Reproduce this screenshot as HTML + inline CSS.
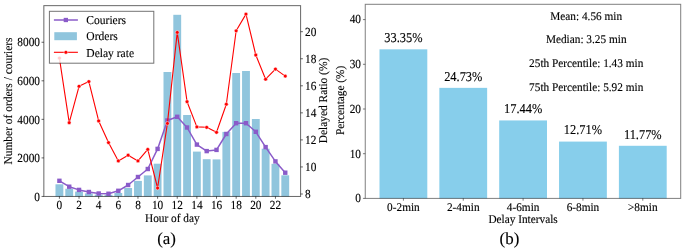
<!DOCTYPE html><html><head><meta charset="utf-8"><title>Figure</title><style>html,body{margin:0;padding:0;background:#fff}svg{display:block}text{text-rendering:geometricPrecision;font-family:"Liberation Serif","Times New Roman",serif}</style></head><body>
<svg width="685" height="248" viewBox="0 0 685 248">
<rect width="685" height="248" fill="#fff"/>
<g>
<rect x="55.48" y="184.30" width="7.85" height="12.15" fill="#90C5DD"/>
<rect x="65.30" y="188.75" width="7.85" height="7.70" fill="#90C5DD"/>
<rect x="75.11" y="191.60" width="7.85" height="4.85" fill="#90C5DD"/>
<rect x="84.94" y="193.40" width="7.85" height="3.05" fill="#90C5DD"/>
<rect x="94.76" y="194.60" width="7.85" height="1.85" fill="#90C5DD"/>
<rect x="104.58" y="194.80" width="7.85" height="1.65" fill="#90C5DD"/>
<rect x="114.39" y="193.00" width="7.85" height="3.45" fill="#90C5DD"/>
<rect x="124.22" y="188.00" width="7.85" height="8.45" fill="#90C5DD"/>
<rect x="134.03" y="180.90" width="7.85" height="15.55" fill="#90C5DD"/>
<rect x="143.85" y="175.40" width="7.85" height="21.05" fill="#90C5DD"/>
<rect x="153.67" y="163.70" width="7.85" height="32.75" fill="#90C5DD"/>
<rect x="163.50" y="72.00" width="7.85" height="124.45" fill="#90C5DD"/>
<rect x="173.31" y="14.80" width="7.85" height="181.65" fill="#90C5DD"/>
<rect x="183.13" y="115.00" width="7.85" height="81.45" fill="#90C5DD"/>
<rect x="192.96" y="151.60" width="7.85" height="44.85" fill="#90C5DD"/>
<rect x="202.78" y="159.20" width="7.85" height="37.25" fill="#90C5DD"/>
<rect x="212.59" y="159.40" width="7.85" height="37.05" fill="#90C5DD"/>
<rect x="222.41" y="131.90" width="7.85" height="64.55" fill="#90C5DD"/>
<rect x="232.23" y="73.00" width="7.85" height="123.45" fill="#90C5DD"/>
<rect x="242.06" y="71.00" width="7.85" height="125.45" fill="#90C5DD"/>
<rect x="251.88" y="119.00" width="7.85" height="77.45" fill="#90C5DD"/>
<rect x="261.69" y="148.70" width="7.85" height="47.75" fill="#90C5DD"/>
<rect x="271.51" y="163.80" width="7.85" height="32.65" fill="#90C5DD"/>
<rect x="281.33" y="175.30" width="7.85" height="21.15" fill="#90C5DD"/>
<polyline points="59.40,180.80 69.22,186.70 79.04,189.90 88.86,192.00 98.68,193.50 108.50,193.75 118.32,190.80 128.14,185.00 137.96,177.00 147.78,169.00 157.60,148.90 167.42,120.50 177.24,116.80 187.06,127.50 196.88,144.60 206.70,151.10 216.52,149.90 226.34,134.00 236.16,123.20 245.98,123.20 255.80,131.80 265.62,147.10 275.44,161.40 285.26,172.70" fill="none" stroke="#8A5BC9" stroke-width="1.5" stroke-linejoin="round"/>
<rect x="57.20" y="178.60" width="4.4" height="4.4" fill="#8A5BC9"/>
<rect x="67.02" y="184.50" width="4.4" height="4.4" fill="#8A5BC9"/>
<rect x="76.84" y="187.70" width="4.4" height="4.4" fill="#8A5BC9"/>
<rect x="86.66" y="189.80" width="4.4" height="4.4" fill="#8A5BC9"/>
<rect x="96.48" y="191.30" width="4.4" height="4.4" fill="#8A5BC9"/>
<rect x="106.30" y="191.55" width="4.4" height="4.4" fill="#8A5BC9"/>
<rect x="116.12" y="188.60" width="4.4" height="4.4" fill="#8A5BC9"/>
<rect x="125.94" y="182.80" width="4.4" height="4.4" fill="#8A5BC9"/>
<rect x="135.76" y="174.80" width="4.4" height="4.4" fill="#8A5BC9"/>
<rect x="145.58" y="166.80" width="4.4" height="4.4" fill="#8A5BC9"/>
<rect x="155.40" y="146.70" width="4.4" height="4.4" fill="#8A5BC9"/>
<rect x="165.22" y="118.30" width="4.4" height="4.4" fill="#8A5BC9"/>
<rect x="175.04" y="114.60" width="4.4" height="4.4" fill="#8A5BC9"/>
<rect x="184.86" y="125.30" width="4.4" height="4.4" fill="#8A5BC9"/>
<rect x="194.68" y="142.40" width="4.4" height="4.4" fill="#8A5BC9"/>
<rect x="204.50" y="148.90" width="4.4" height="4.4" fill="#8A5BC9"/>
<rect x="214.32" y="147.70" width="4.4" height="4.4" fill="#8A5BC9"/>
<rect x="224.14" y="131.80" width="4.4" height="4.4" fill="#8A5BC9"/>
<rect x="233.96" y="121.00" width="4.4" height="4.4" fill="#8A5BC9"/>
<rect x="243.78" y="121.00" width="4.4" height="4.4" fill="#8A5BC9"/>
<rect x="253.60" y="129.60" width="4.4" height="4.4" fill="#8A5BC9"/>
<rect x="263.42" y="144.90" width="4.4" height="4.4" fill="#8A5BC9"/>
<rect x="273.24" y="159.20" width="4.4" height="4.4" fill="#8A5BC9"/>
<rect x="283.06" y="170.50" width="4.4" height="4.4" fill="#8A5BC9"/>
<polyline points="59.40,58.10 69.22,122.70 79.04,86.30 88.86,81.60 98.68,120.90 108.50,142.60 118.32,160.90 128.14,155.20 137.96,160.90 147.78,149.40 157.60,188.00 167.42,123.40 177.24,32.40 187.06,101.70 196.88,126.90 206.70,127.30 216.52,132.30 226.34,104.20 236.16,30.80 245.98,14.10 255.80,55.00 265.62,79.20 275.44,69.10 285.26,76.10" fill="none" stroke="#FF0000" stroke-width="1.1" stroke-linejoin="round"/>
<circle cx="59.40" cy="58.10" r="1.9" fill="#FF0000" stroke="#fff" stroke-width="0.5"/>
<circle cx="69.22" cy="122.70" r="1.9" fill="#FF0000" stroke="#fff" stroke-width="0.5"/>
<circle cx="79.04" cy="86.30" r="1.9" fill="#FF0000" stroke="#fff" stroke-width="0.5"/>
<circle cx="88.86" cy="81.60" r="1.9" fill="#FF0000" stroke="#fff" stroke-width="0.5"/>
<circle cx="98.68" cy="120.90" r="1.9" fill="#FF0000" stroke="#fff" stroke-width="0.5"/>
<circle cx="108.50" cy="142.60" r="1.9" fill="#FF0000" stroke="#fff" stroke-width="0.5"/>
<circle cx="118.32" cy="160.90" r="1.9" fill="#FF0000" stroke="#fff" stroke-width="0.5"/>
<circle cx="128.14" cy="155.20" r="1.9" fill="#FF0000" stroke="#fff" stroke-width="0.5"/>
<circle cx="137.96" cy="160.90" r="1.9" fill="#FF0000" stroke="#fff" stroke-width="0.5"/>
<circle cx="147.78" cy="149.40" r="1.9" fill="#FF0000" stroke="#fff" stroke-width="0.5"/>
<circle cx="157.60" cy="188.00" r="1.9" fill="#FF0000" stroke="#fff" stroke-width="0.5"/>
<circle cx="167.42" cy="123.40" r="1.9" fill="#FF0000" stroke="#fff" stroke-width="0.5"/>
<circle cx="177.24" cy="32.40" r="1.9" fill="#FF0000" stroke="#fff" stroke-width="0.5"/>
<circle cx="187.06" cy="101.70" r="1.9" fill="#FF0000" stroke="#fff" stroke-width="0.5"/>
<circle cx="196.88" cy="126.90" r="1.9" fill="#FF0000" stroke="#fff" stroke-width="0.5"/>
<circle cx="206.70" cy="127.30" r="1.9" fill="#FF0000" stroke="#fff" stroke-width="0.5"/>
<circle cx="216.52" cy="132.30" r="1.9" fill="#FF0000" stroke="#fff" stroke-width="0.5"/>
<circle cx="226.34" cy="104.20" r="1.9" fill="#FF0000" stroke="#fff" stroke-width="0.5"/>
<circle cx="236.16" cy="30.80" r="1.9" fill="#FF0000" stroke="#fff" stroke-width="0.5"/>
<circle cx="245.98" cy="14.10" r="1.9" fill="#FF0000" stroke="#fff" stroke-width="0.5"/>
<circle cx="255.80" cy="55.00" r="1.9" fill="#FF0000" stroke="#fff" stroke-width="0.5"/>
<circle cx="265.62" cy="79.20" r="1.9" fill="#FF0000" stroke="#fff" stroke-width="0.5"/>
<circle cx="275.44" cy="69.10" r="1.9" fill="#FF0000" stroke="#fff" stroke-width="0.5"/>
<circle cx="285.26" cy="76.10" r="1.9" fill="#FF0000" stroke="#fff" stroke-width="0.5"/>
<rect x="43.85" y="5.65" width="256.75" height="190.80" fill="none" stroke="#000" stroke-opacity="0.6" stroke-width="1.0"/>
<line x1="41.550000000000004" x2="43.85" y1="196.45" y2="196.45" stroke="#000" stroke-opacity="0.6" stroke-width="1.0"/>
<text transform="translate(39.95,200.65) scale(1.0,1.09)" font-size="11.3" text-anchor="end" stroke="#000" stroke-width="0.12" fill="#000">0</text>
<line x1="41.550000000000004" x2="43.85" y1="157.90" y2="157.90" stroke="#000" stroke-opacity="0.6" stroke-width="1.0"/>
<text transform="translate(39.95,162.10) scale(1.0,1.09)" font-size="11.3" text-anchor="end" stroke="#000" stroke-width="0.12" fill="#000">2000</text>
<line x1="41.550000000000004" x2="43.85" y1="119.35" y2="119.35" stroke="#000" stroke-opacity="0.6" stroke-width="1.0"/>
<text transform="translate(39.95,123.55) scale(1.0,1.09)" font-size="11.3" text-anchor="end" stroke="#000" stroke-width="0.12" fill="#000">4000</text>
<line x1="41.550000000000004" x2="43.85" y1="80.80" y2="80.80" stroke="#000" stroke-opacity="0.6" stroke-width="1.0"/>
<text transform="translate(39.95,85.00) scale(1.0,1.09)" font-size="11.3" text-anchor="end" stroke="#000" stroke-width="0.12" fill="#000">6000</text>
<line x1="41.550000000000004" x2="43.85" y1="42.25" y2="42.25" stroke="#000" stroke-opacity="0.6" stroke-width="1.0"/>
<text transform="translate(39.95,46.45) scale(1.0,1.09)" font-size="11.3" text-anchor="end" stroke="#000" stroke-width="0.12" fill="#000">8000</text>
<line x1="59.40" x2="59.40" y1="196.45" y2="198.75" stroke="#000" stroke-opacity="0.6" stroke-width="1.0"/>
<text transform="translate(59.40,208.60) scale(1.0,1.09)" font-size="11.3" text-anchor="middle" stroke="#000" stroke-width="0.12" fill="#000">0</text>
<line x1="79.04" x2="79.04" y1="196.45" y2="198.75" stroke="#000" stroke-opacity="0.6" stroke-width="1.0"/>
<text transform="translate(79.04,208.60) scale(1.0,1.09)" font-size="11.3" text-anchor="middle" stroke="#000" stroke-width="0.12" fill="#000">2</text>
<line x1="98.68" x2="98.68" y1="196.45" y2="198.75" stroke="#000" stroke-opacity="0.6" stroke-width="1.0"/>
<text transform="translate(98.68,208.60) scale(1.0,1.09)" font-size="11.3" text-anchor="middle" stroke="#000" stroke-width="0.12" fill="#000">4</text>
<line x1="118.32" x2="118.32" y1="196.45" y2="198.75" stroke="#000" stroke-opacity="0.6" stroke-width="1.0"/>
<text transform="translate(118.32,208.60) scale(1.0,1.09)" font-size="11.3" text-anchor="middle" stroke="#000" stroke-width="0.12" fill="#000">6</text>
<line x1="137.96" x2="137.96" y1="196.45" y2="198.75" stroke="#000" stroke-opacity="0.6" stroke-width="1.0"/>
<text transform="translate(137.96,208.60) scale(1.0,1.09)" font-size="11.3" text-anchor="middle" stroke="#000" stroke-width="0.12" fill="#000">8</text>
<line x1="157.60" x2="157.60" y1="196.45" y2="198.75" stroke="#000" stroke-opacity="0.6" stroke-width="1.0"/>
<text transform="translate(157.60,208.60) scale(1.0,1.09)" font-size="11.3" text-anchor="middle" stroke="#000" stroke-width="0.12" fill="#000">10</text>
<line x1="177.24" x2="177.24" y1="196.45" y2="198.75" stroke="#000" stroke-opacity="0.6" stroke-width="1.0"/>
<text transform="translate(177.24,208.60) scale(1.0,1.09)" font-size="11.3" text-anchor="middle" stroke="#000" stroke-width="0.12" fill="#000">12</text>
<line x1="196.88" x2="196.88" y1="196.45" y2="198.75" stroke="#000" stroke-opacity="0.6" stroke-width="1.0"/>
<text transform="translate(196.88,208.60) scale(1.0,1.09)" font-size="11.3" text-anchor="middle" stroke="#000" stroke-width="0.12" fill="#000">14</text>
<line x1="216.52" x2="216.52" y1="196.45" y2="198.75" stroke="#000" stroke-opacity="0.6" stroke-width="1.0"/>
<text transform="translate(216.52,208.60) scale(1.0,1.09)" font-size="11.3" text-anchor="middle" stroke="#000" stroke-width="0.12" fill="#000">16</text>
<line x1="236.16" x2="236.16" y1="196.45" y2="198.75" stroke="#000" stroke-opacity="0.6" stroke-width="1.0"/>
<text transform="translate(236.16,208.60) scale(1.0,1.09)" font-size="11.3" text-anchor="middle" stroke="#000" stroke-width="0.12" fill="#000">18</text>
<line x1="255.80" x2="255.80" y1="196.45" y2="198.75" stroke="#000" stroke-opacity="0.6" stroke-width="1.0"/>
<text transform="translate(255.80,208.60) scale(1.0,1.09)" font-size="11.3" text-anchor="middle" stroke="#000" stroke-width="0.12" fill="#000">20</text>
<line x1="275.44" x2="275.44" y1="196.45" y2="198.75" stroke="#000" stroke-opacity="0.6" stroke-width="1.0"/>
<text transform="translate(275.44,208.60) scale(1.0,1.09)" font-size="11.3" text-anchor="middle" stroke="#000" stroke-width="0.12" fill="#000">22</text>
<line x1="300.6" x2="302.90000000000003" y1="194.00" y2="194.00" stroke="#000" stroke-opacity="0.6" stroke-width="1.0"/>
<text transform="translate(305.00,198.10) scale(1.0,1.09)" font-size="11.3" text-anchor="start" stroke="#000" stroke-width="0.12" fill="#000">8</text>
<line x1="300.6" x2="302.90000000000003" y1="166.95" y2="166.95" stroke="#000" stroke-opacity="0.6" stroke-width="1.0"/>
<text transform="translate(305.00,171.05) scale(1.0,1.09)" font-size="11.3" text-anchor="start" stroke="#000" stroke-width="0.12" fill="#000">10</text>
<line x1="300.6" x2="302.90000000000003" y1="139.90" y2="139.90" stroke="#000" stroke-opacity="0.6" stroke-width="1.0"/>
<text transform="translate(305.00,144.00) scale(1.0,1.09)" font-size="11.3" text-anchor="start" stroke="#000" stroke-width="0.12" fill="#000">12</text>
<line x1="300.6" x2="302.90000000000003" y1="112.85" y2="112.85" stroke="#000" stroke-opacity="0.6" stroke-width="1.0"/>
<text transform="translate(305.00,116.95) scale(1.0,1.09)" font-size="11.3" text-anchor="start" stroke="#000" stroke-width="0.12" fill="#000">14</text>
<line x1="300.6" x2="302.90000000000003" y1="85.80" y2="85.80" stroke="#000" stroke-opacity="0.6" stroke-width="1.0"/>
<text transform="translate(305.00,89.90) scale(1.0,1.09)" font-size="11.3" text-anchor="start" stroke="#000" stroke-width="0.12" fill="#000">16</text>
<line x1="300.6" x2="302.90000000000003" y1="58.75" y2="58.75" stroke="#000" stroke-opacity="0.6" stroke-width="1.0"/>
<text transform="translate(305.00,62.85) scale(1.0,1.09)" font-size="11.3" text-anchor="start" stroke="#000" stroke-width="0.12" fill="#000">18</text>
<line x1="300.6" x2="302.90000000000003" y1="31.70" y2="31.70" stroke="#000" stroke-opacity="0.6" stroke-width="1.0"/>
<text transform="translate(305.00,35.80) scale(1.0,1.09)" font-size="11.3" text-anchor="start" stroke="#000" stroke-width="0.12" fill="#000">20</text>
<text transform="translate(12.40,101.00) rotate(-90) scale(1.0,1.045)" font-size="11.45" text-anchor="middle" stroke="#000" stroke-width="0.12" fill="#000">Number of orders / couriers</text>
<text transform="translate(326.60,100.50) rotate(-90) scale(1.0,1.045)" font-size="11.4" text-anchor="middle" stroke="#000" stroke-width="0.12" fill="#000">Delayed Ratio (%)</text>
<text transform="translate(172.30,221.60) scale(1.0,1.045)" font-size="11.3" text-anchor="middle" stroke="#000" stroke-width="0.12" fill="#000">Hour of day</text>
<text transform="translate(166.60,243.60) scale(1.0,1.0)" font-size="16.9" text-anchor="middle" stroke="#000" stroke-width="0.12" fill="#000">(a)</text>
<rect x="49.4" y="11.3" width="104.4" height="51.9" fill="#fff" fill-opacity="0.8" stroke="#000" stroke-opacity="0.55" stroke-width="1.0"/>
<line x1="53.9" x2="77.9" y1="20.0" y2="20.0" stroke="#8A5BC9" stroke-width="1.5"/><rect x="63.7" y="17.85" width="4.3" height="4.3" fill="#8A5BC9"/>
<rect x="54.3" y="32.2" width="22.6" height="8" fill="#90C5DD"/>
<line x1="53.9" x2="77.9" y1="52.3" y2="52.3" stroke="#FF0000" stroke-width="1.1"/><circle cx="65.9" cy="52.3" r="1.9" fill="#FF0000" stroke="#fff" stroke-width="0.5"/>
<text transform="translate(86.30,24.20) scale(1.0,1.045)" font-size="11.55" text-anchor="start" stroke="#000" stroke-width="0.12" fill="#000">Couriers</text>
<text transform="translate(86.30,40.20) scale(1.0,1.045)" font-size="11.55" text-anchor="start" stroke="#000" stroke-width="0.12" fill="#000">Orders</text>
<text transform="translate(86.30,56.70) scale(1.0,1.045)" font-size="11.55" text-anchor="start" stroke="#000" stroke-width="0.12" fill="#000">Delay rate</text>
</g>
<g>
<rect x="379.50" y="49.33" width="47.8" height="149.07" fill="#87CEEB"/>
<text transform="translate(403.40,42.23) scale(1.0,1.09)" font-size="12.4" text-anchor="middle" stroke="#000" stroke-width="0.12" fill="#000">33.35%</text>
<line x1="403.40" x2="403.40" y1="198.4" y2="200.70000000000002" stroke="#000" stroke-opacity="0.5" stroke-width="1.0"/>
<text transform="translate(403.40,210.60) scale(1.0,1.045)" font-size="11.3" text-anchor="middle" stroke="#000" stroke-width="0.12" fill="#000">0-2min</text>
<rect x="439.35" y="87.86" width="47.8" height="110.54" fill="#87CEEB"/>
<text transform="translate(463.25,80.76) scale(1.0,1.09)" font-size="12.4" text-anchor="middle" stroke="#000" stroke-width="0.12" fill="#000">24.73%</text>
<line x1="463.25" x2="463.25" y1="198.4" y2="200.70000000000002" stroke="#000" stroke-opacity="0.5" stroke-width="1.0"/>
<text transform="translate(463.25,210.60) scale(1.0,1.045)" font-size="11.3" text-anchor="middle" stroke="#000" stroke-width="0.12" fill="#000">2-4min</text>
<rect x="499.20" y="120.44" width="47.8" height="77.96" fill="#87CEEB"/>
<text transform="translate(523.10,113.34) scale(1.0,1.09)" font-size="12.4" text-anchor="middle" stroke="#000" stroke-width="0.12" fill="#000">17.44%</text>
<line x1="523.10" x2="523.10" y1="198.4" y2="200.70000000000002" stroke="#000" stroke-opacity="0.5" stroke-width="1.0"/>
<text transform="translate(523.10,210.60) scale(1.0,1.045)" font-size="11.3" text-anchor="middle" stroke="#000" stroke-width="0.12" fill="#000">4-6min</text>
<rect x="559.05" y="141.59" width="47.8" height="56.81" fill="#87CEEB"/>
<text transform="translate(582.95,134.49) scale(1.0,1.09)" font-size="12.4" text-anchor="middle" stroke="#000" stroke-width="0.12" fill="#000">12.71%</text>
<line x1="582.95" x2="582.95" y1="198.4" y2="200.70000000000002" stroke="#000" stroke-opacity="0.5" stroke-width="1.0"/>
<text transform="translate(582.95,210.60) scale(1.0,1.045)" font-size="11.3" text-anchor="middle" stroke="#000" stroke-width="0.12" fill="#000">6-8min</text>
<rect x="618.90" y="145.79" width="47.8" height="52.61" fill="#87CEEB"/>
<text transform="translate(642.80,138.69) scale(1.0,1.09)" font-size="12.4" text-anchor="middle" stroke="#000" stroke-width="0.12" fill="#000">11.77%</text>
<line x1="642.80" x2="642.80" y1="198.4" y2="200.70000000000002" stroke="#000" stroke-opacity="0.5" stroke-width="1.0"/>
<text transform="translate(642.80,210.60) scale(1.0,1.045)" font-size="11.3" text-anchor="middle" stroke="#000" stroke-width="0.12" fill="#000">&gt;8min</text>
<rect x="365.25" y="4.3" width="315.45" height="194.10" fill="none" stroke="#000" stroke-opacity="0.5" stroke-width="1.0"/>
<line x1="362.95" x2="365.25" y1="198.40" y2="198.40" stroke="#000" stroke-opacity="0.5" stroke-width="1.0"/>
<text transform="translate(360.95,202.20) scale(1.0,1.09)" font-size="11.3" text-anchor="end" stroke="#000" stroke-width="0.12" fill="#000">0</text>
<line x1="362.95" x2="365.25" y1="153.70" y2="153.70" stroke="#000" stroke-opacity="0.5" stroke-width="1.0"/>
<text transform="translate(360.95,157.50) scale(1.0,1.09)" font-size="11.3" text-anchor="end" stroke="#000" stroke-width="0.12" fill="#000">10</text>
<line x1="362.95" x2="365.25" y1="109.00" y2="109.00" stroke="#000" stroke-opacity="0.5" stroke-width="1.0"/>
<text transform="translate(360.95,112.80) scale(1.0,1.09)" font-size="11.3" text-anchor="end" stroke="#000" stroke-width="0.12" fill="#000">20</text>
<line x1="362.95" x2="365.25" y1="64.30" y2="64.30" stroke="#000" stroke-opacity="0.5" stroke-width="1.0"/>
<text transform="translate(360.95,68.10) scale(1.0,1.09)" font-size="11.3" text-anchor="end" stroke="#000" stroke-width="0.12" fill="#000">30</text>
<line x1="362.95" x2="365.25" y1="19.60" y2="19.60" stroke="#000" stroke-opacity="0.5" stroke-width="1.0"/>
<text transform="translate(360.95,23.40) scale(1.0,1.09)" font-size="11.3" text-anchor="end" stroke="#000" stroke-width="0.12" fill="#000">40</text>
<text transform="translate(344.40,100.40) rotate(-90) scale(1.0,1.045)" font-size="11.3" text-anchor="middle" stroke="#000" stroke-width="0.12" fill="#000">Percentage (%)</text>
<text transform="translate(523.05,222.70) scale(1.0,1.045)" font-size="11.3" text-anchor="middle" stroke="#000" stroke-width="0.12" fill="#000">Delay Intervals</text>
<text transform="translate(509.40,243.60) scale(1.0,1.0)" font-size="16.9" text-anchor="middle" stroke="#000" stroke-width="0.12" fill="#000">(b)</text>
<text transform="translate(586.20,19.70) scale(1.0,1.045)" font-size="11.3" text-anchor="middle" stroke="#000" stroke-width="0.12" fill="#000">Mean: 4.56 min</text>
<text transform="translate(586.20,43.35) scale(1.0,1.045)" font-size="11.3" text-anchor="middle" stroke="#000" stroke-width="0.12" fill="#000">Median: 3.25 min</text>
<text transform="translate(586.20,67.00) scale(1.0,1.045)" font-size="11.3" text-anchor="middle" stroke="#000" stroke-width="0.12" fill="#000">25th Percentile: 1.43 min</text>
<text transform="translate(586.20,90.65) scale(1.0,1.045)" font-size="11.3" text-anchor="middle" stroke="#000" stroke-width="0.12" fill="#000">75th Percentile: 5.92 min</text>
</g>
</svg></body></html>
